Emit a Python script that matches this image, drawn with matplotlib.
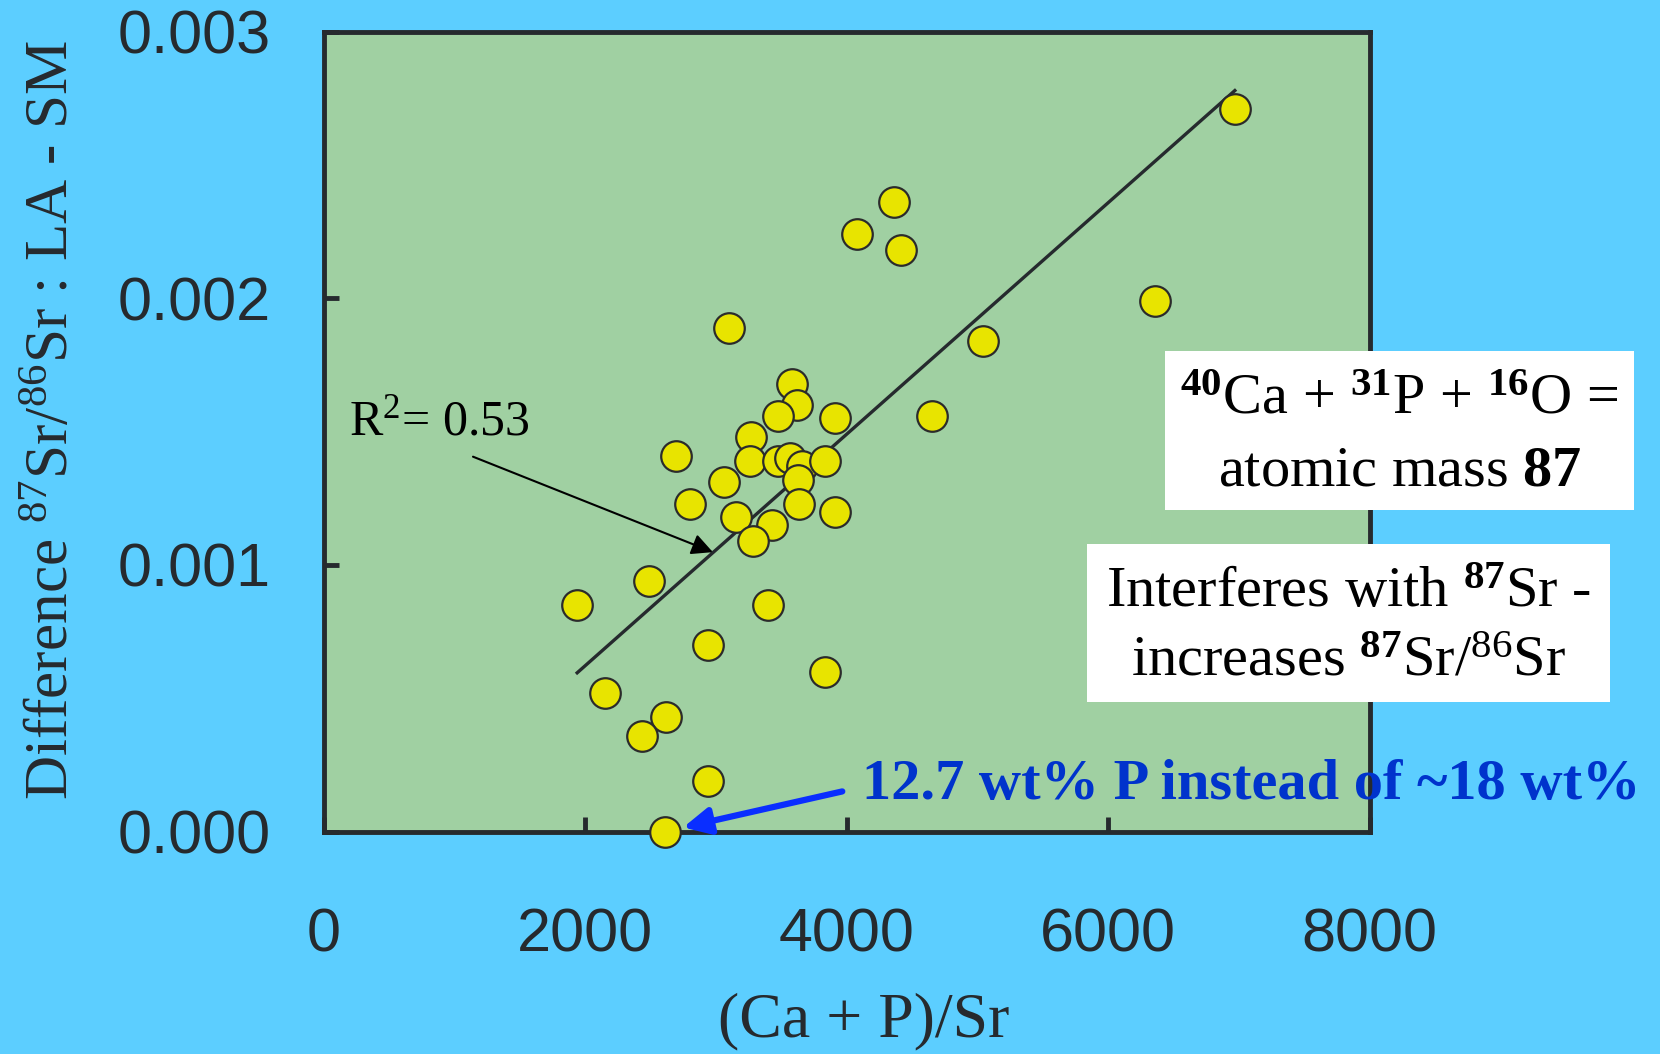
import matplotlib
matplotlib.use("Agg")
import matplotlib.pyplot as plt
from matplotlib.patches import Rectangle
import numpy as np

# (Ca + P)/Sr and the LA - SM difference
ca_p_sr = [6970, 4365, 4081, 4414, 6361, 3099, 5047, 3584, 3622, 3474,
           3910, 4657, 3272, 2694, 3259, 3474, 3570, 3660, 3831, 3630,
           3060, 2799, 3634, 3910, 3157, 3430, 3285, 2491, 1939, 3400,
           2937, 3838, 2150, 2621, 2434, 2937, 2613]
sr_diff = [0.00271, 0.00236, 0.00224, 0.00218, 0.00199, 0.00189, 0.00184,
           0.00168, 0.00160, 0.00156, 0.00155, 0.00156, 0.00148, 0.00141,
           0.00139, 0.00139, 0.00140, 0.00137, 0.00139, 0.00132, 0.00131,
           0.00123, 0.00123, 0.00120, 0.00118, 0.00115, 0.00109, 0.00094,
           0.00085, 0.00085, 0.00070, 0.00060, 0.00052, 0.00043, 0.00036,
           0.00019, 0.00000]

# linear fit as drawn in the figure
fit_slope = 4.34e-7
fit_intercept = -2.46e-4
r2_text = "R$^2$= 0.53"

x_ticks = [0, 2000, 4000, 6000, 8000]
x_ticklabels = ["0", "2000", "4000", "6000", "8000"]
y_ticks = [0.000, 0.001, 0.002, 0.003]
y_ticklabels = ["0.000", "0.001", "0.002", "0.003"]

BG = "#5CCEFF"
FACE = "#A0D0A2"
DARK = "#262A2E"
BLUE = "#0033CC"

plt.rcParams["mathtext.fontset"] = "custom"
plt.rcParams["mathtext.rm"] = "Liberation Serif"
plt.rcParams["mathtext.it"] = "Liberation Serif:italic"
plt.rcParams["mathtext.bf"] = "Liberation Serif:bold"
plt.rcParams["mathtext.default"] = "regular"

fig = plt.figure(figsize=(16.6, 10.54), dpi=100, facecolor=BG)
ax = fig.add_axes([0.195, 0.211, 0.63, 0.759])
ax.set_facecolor(FACE)

xs = np.array([min(ca_p_sr), max(ca_p_sr)])
ax.plot(xs, fit_intercept + fit_slope * xs, color=DARK, lw=2.4, zorder=2)

ax.plot(ca_p_sr, sr_diff, "o", ms=22, mfc="#E8E400", mec="#2B2B2B",
        mew=1.6, zorder=3, clip_on=False)

ax.set_xlim(0, 8000)
ax.set_ylim(0, 0.003)
ax.set_xticks(x_ticks)
ax.set_xticklabels(x_ticklabels)
ax.set_yticks(y_ticks)
ax.set_yticklabels(y_ticklabels)
for s in ax.spines.values():
    s.set_linewidth(3.5)
    s.set_color(DARK)
ax.tick_params(direction="in", length=11, width=3.5, color=DARK,
               labelcolor=DARK, labelsize=44)
ax.tick_params(axis="y", pad=38)
ax.tick_params(axis="x", pad=55)
for lab in ax.get_xticklabels() + ax.get_yticklabels():
    lab.set_family("Liberation Sans")

ax.set_xlabel("(Ca + P)/Sr", family="Liberation Serif", fontsize=46, color=DARK)
ax.set_ylabel("Difference $^{87}$Sr/$^{86}$Sr : LA - SM",
              family="Liberation Serif", fontsize=44, color=DARK)
ax.xaxis.set_label_coords(0.516, -0.2375)
ax.xaxis.label.set_va("center")
ax.yaxis.set_label_coords(-0.259, 0.515)
ax.yaxis.label.set_va("center")

# R^2 note with arrow to the fit line
ax.text(192, 0.001533, r2_text, family="Liberation Serif", fontsize=36,
        ha="left", va="center")
ax.annotate("", xy=(2977, 0.001048), xytext=(1142, 0.001406),
            arrowprops=dict(arrowstyle="-|>", color="black", lw=1.5,
                            mutation_scale=32, shrinkA=0, shrinkB=0))

# low-P sample note
ax.annotate("", xy=(2750, 0.0000157), xytext=(3967, 0.0001507),
            arrowprops=dict(arrowstyle="-|>", color="#0A2EFF", lw=4.5,
                            mutation_scale=40, shrinkA=0, shrinkB=0),
            annotation_clip=False)
ax.text(4115, 0.000173, "12.7 wt% P instead of ~18 wt%", color=BLUE,
        family="Liberation Serif", fontweight="bold", fontsize=42,
        ha="left", va="center", clip_on=False)

# white info boxes
fig.patches.append(Rectangle((1165 / 1660, 1 - 510 / 1054), 469 / 1660, 159 / 1054,
                             transform=fig.transFigure, facecolor="white",
                             edgecolor="none", zorder=5))
fig.patches.append(Rectangle((1087 / 1660, 1 - 702 / 1054), 523 / 1660, 158 / 1054,
                             transform=fig.transFigure, facecolor="white",
                             edgecolor="none", zorder=5))
box_kw = dict(family="Liberation Serif", fontsize=42, color="black",
              ha="center", va="center", zorder=6)
fig.text(0.843, 0.6205, r"$^{\mathbf{40}}$Ca + $^{\mathbf{31}}$P + $^{\mathbf{16}}$O =", **box_kw)
fig.text(0.843, 0.553, r"atomic mass $\mathbf{87}$", **box_kw)
fig.text(0.8123, 0.4374, r"Interferes with $^{\mathbf{87}}$Sr -", **box_kw)
fig.text(0.8123, 0.372, r"increases $^{\mathbf{87}}$Sr/$^{86}$Sr", **box_kw)

fig.savefig("out.png", dpi=100, facecolor=BG)
